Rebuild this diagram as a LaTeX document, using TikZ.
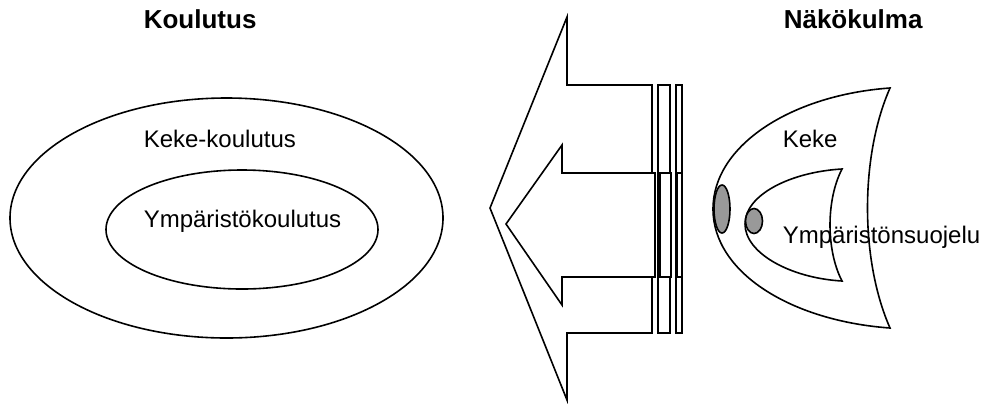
\documentclass[tikz,border=0pt]{standalone}
\usepackage{fontspec}
\setmainfont{Liberation Sans}
\usetikzlibrary{shapes.geometric,positioning}

\begin{document}
\begin{tikzpicture}[x=0.5pt,y=-0.5pt,line width=0.8pt,
    txt/.style={font=\fontsize{12}{14}\selectfont,anchor=base west,inner sep=0pt},
    otsikko/.style={font=\bfseries\fontsize{13}{15}\selectfont,anchor=base west,inner sep=0pt},
    tapla/.style={draw,fill=black!40}]
  \useasboundingbox (0,0) rectangle (984,403);
  % koulutus
  \draw (226.5,218) ellipse [x radius=216.5, y radius=120];
  \draw (242,229.5) ellipse [x radius=136, y radius=59.5];
  \node[otsikko] (koulutus) at (143,28) {Koulutus};
  \node[txt] (keke) at (143,147) {Keke-koulutus};
  \node[txt] (ymp) at (143,227) {Ympäristökoulutus};
  % nuolet
  \draw[fill=white] (490,208) -- (567,17) -- (567,85) -- (652,85) -- (652,333)
    -- (567,333) -- (567,400) -- cycle;
  \foreach \a/\b in {658/670,676/682}
    \draw[fill=white] (\a,85) rectangle (\b,333);
  \draw[fill=white] (506,224) -- (562,145) -- (562,173) -- (655,173) -- (655,277)
    -- (562,277) -- (562,305) -- cycle;
  \foreach \a/\b in {660/671,677/682}
    \draw[fill=white] (\a,173) rectangle (\b,277);
  % nakokulma
  \draw (890,88) .. controls (792,95) and (713,145) .. (713,209)
    .. controls (713,273) and (792,321) .. (890,328)
    .. controls (860,260) and (860,156) .. (890,88) -- cycle;
  \draw (842,169) .. controls (790,172) and (745,195) .. (745,224)
    .. controls (745,253) and (790,278) .. (842,281)
    .. controls (826,250) and (826,200) .. (842,169) -- cycle;
  \draw[tapla] (722,209) ellipse [x radius=8, y radius=24];
  \draw[tapla] (754,221) ellipse [x radius=8.5, y radius=12.5];
  \node[otsikko] (nakokulma) at (783,28) {Näkökulma};
  \node[txt] (kekeb) at (782,147) {Keke};
  \node[txt] (suojelu) at (782,243) {Ympäristönsuojelu};
\end{tikzpicture}
\end{document}
